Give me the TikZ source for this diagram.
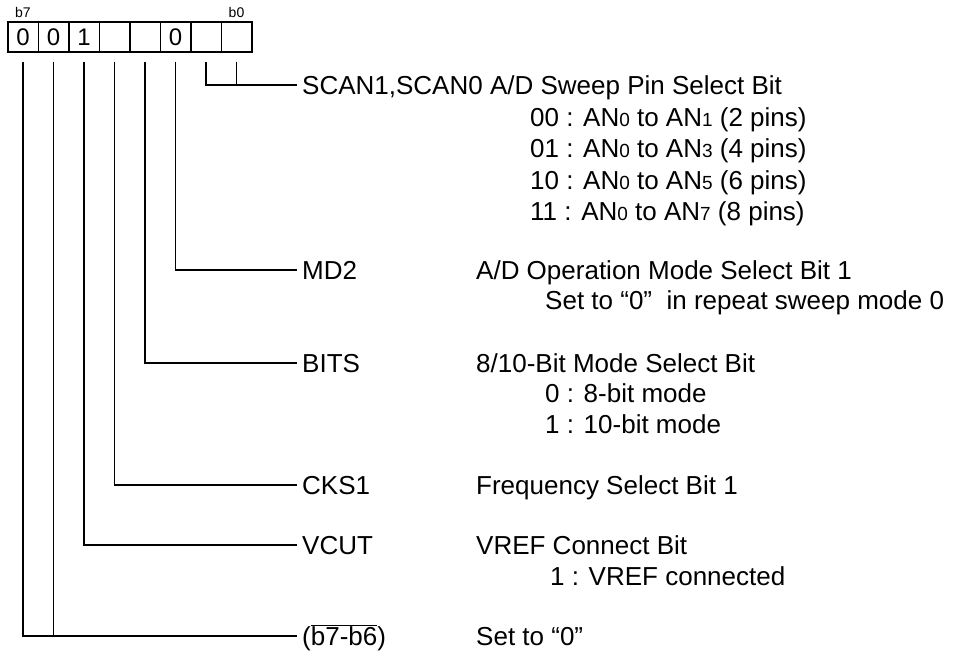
\documentclass[tikz,border=0pt]{standalone}
\usepackage{fontspec}
\setmainfont{Liberation Sans}
\newcommand\anidx[1]{{\fontsize{19}{22}\selectfont #1}}
\begin{document}
\begin{tikzpicture}[x=1pt,y=-1pt,
  every node/.style={font=\fontsize{26}{30}\selectfont},
  cell/.style={draw, line width=1.5pt, minimum width=30.5pt, minimum height=30pt, inner sep=0pt, anchor=north west, font=\fontsize{24}{28}\selectfont},
  lbl/.style={anchor=west, inner xsep=5pt, inner ysep=0pt, text height=18.6pt, text depth=0pt},
  txt/.style={anchor=west, inner sep=0pt, text height=18.6pt, text depth=0pt},
  conn/.style={line width=1.5pt},
  bitlbl/.style={font=\fontsize{14}{16}\selectfont, inner sep=0pt, anchor=base}]
\useasboundingbox (0,0) rectangle (956,651);
% register cells
\node[cell] (c7) at (7,21) {0};
\node[cell] (c6) at (37.5,21) {0};
\node[cell] (c5) at (68,21) {1};
\node[cell] (c4) at (98.5,21) {};
\node[cell] (c3) at (129,21) {};
\node[cell] (c2) at (159.5,21) {0};
\node[cell] (c1) at (190,21) {};
\node[cell] (c0) at (220.5,21) {};
\node[bitlbl] (b7) at (c7.north |- 0,17) {b7};
\node[bitlbl] (b0) at (c0.north |- 0,17) {b0};
% labels
\node[lbl] (scan) at (297,85) {SCAN1,SCAN0 A/D Sweep Pin Select Bit};
\node[txt] (s00) at (530,117) {00 : AN\anidx{0} to AN\anidx{1} (2 pins)};
\node[txt] (s01) at (530,148) {01 : AN\anidx{0} to AN\anidx{3} (4 pins)};
\node[txt] (s10) at (530,180) {10 : AN\anidx{0} to AN\anidx{5} (6 pins)};
\node[txt] (s11) at (530,211) {11 : AN\anidx{0} to AN\anidx{7} (8 pins)};
\node[lbl] (md2) at (297,270) {MD2};
\node[txt] (md2d) at (476,270) {A/D Operation Mode Select Bit 1};
\node[txt] (md2s) at (545,300) {Set to “0”\ \ in repeat sweep mode 0};
\node[lbl] (bits) at (297,363) {BITS};
\node[txt] (bitsd) at (476,363) {8/10-Bit Mode Select Bit};
\node[txt] (bits0) at (545,393) {0 : 8-bit mode};
\node[txt] (bits1) at (545,424) {1 : 10-bit mode};
\node[lbl] (cks) at (297,485) {CKS1};
\node[txt] (cksd) at (476,485) {Frequency Select Bit 1};
\node[lbl] (vcut) at (297,545) {VCUT};
\node[txt] (vcutd) at (476,545) {VREF Connect Bit};
\node[txt] (vcut1) at (550,576) {1 : VREF connected};
\node[lbl] (rsv) at (297,636) {($\overline{\hbox{b7-b6}}$)};
\node[txt] (rsvd) at (476,636) {Set to “0”};
% connectors
\draw[conn] ([yshift=-9pt]c1.south) |- (scan.west);
\draw[conn] ([yshift=-9pt]c0.south) -- (c0.south |- scan.west);
\draw[conn] ([yshift=-9pt]c2.south) |- (md2.west);
\draw[conn] ([yshift=-9pt]c3.south) |- (bits.west);
\draw[conn] ([yshift=-9pt]c4.south) |- (cks.west);
\draw[conn] ([yshift=-9pt]c5.south) |- (vcut.west);
\draw[conn] ([yshift=-9pt]c7.south) |- (rsv.west);
\draw[conn] ([yshift=-9pt]c6.south) -- (c6.south |- rsv.west);
\end{tikzpicture}
\end{document}
